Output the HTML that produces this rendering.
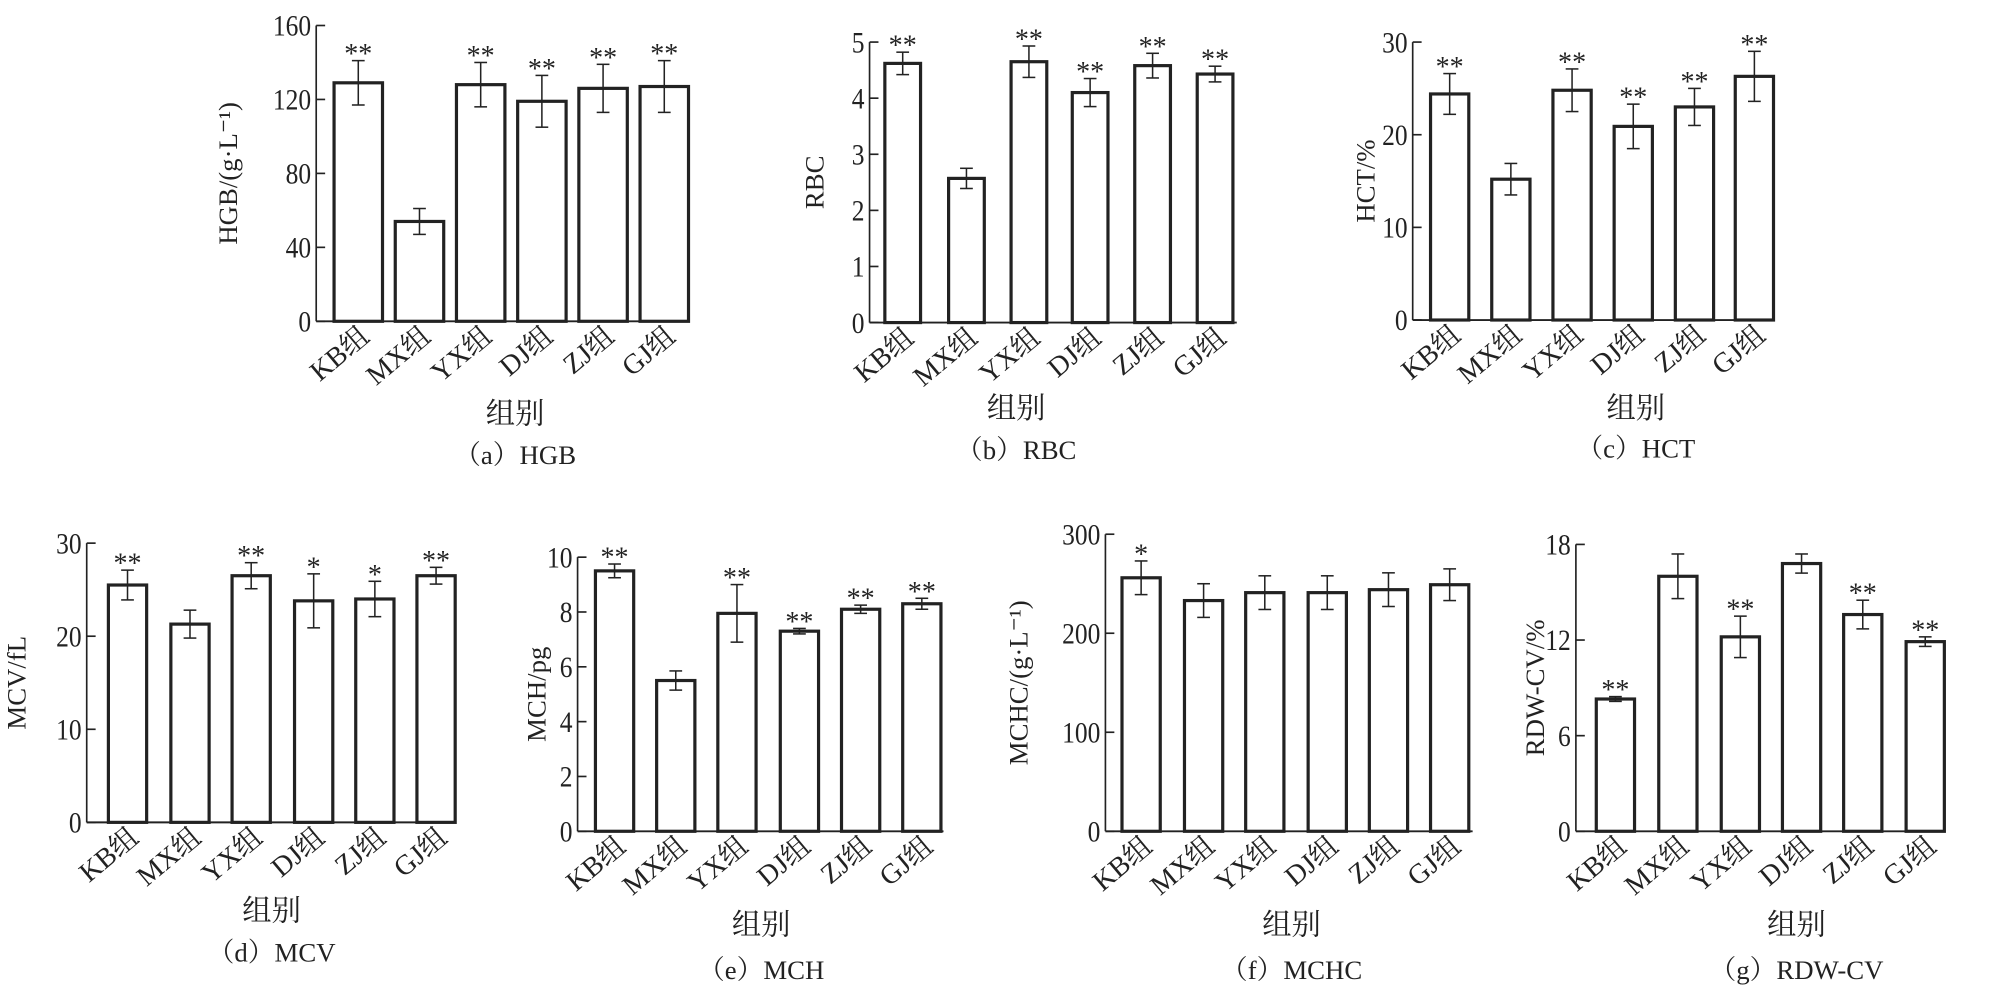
<!DOCTYPE html>
<html><head><meta charset="utf-8"><style>
html,body{margin:0;padding:0;background:#fff;width:1989px;height:989px;overflow:hidden}
svg text{font-family:"Liberation Serif","Noto Serif CJK SC","Noto Sans CJK SC",serif;fill:#222}
</style></head><body>
<svg id="s" width="1989" height="989" viewBox="0 0 1560 775.7" xmlns="http://www.w3.org/2000/svg"></svg>
<script>
const P=[
{ax:248,top:20,y0:252,max:160,ticks:[0,40,80,120,160],c:[281,329,377,425,473,521],w:38,end:540,
 v:[129,54,128,119,126,127],e:[12,7,12,14,13,14],st:["**","","**","**","**","**"],lab:"HGB/(g·L⁻¹)",lx:178,gx:404,gy:332,cap:"（a）HGB",cy:364},
{ax:682,top:33,y0:253,max:5,ticks:[0,1,2,3,4,5],c:[708,758,807,855,904,953],w:28,end:970,
 v:[4.62,2.57,4.65,4.1,4.58,4.43],e:[.2,.18,.28,.25,.22,.14],st:["**","","**","**","**","**"],lab:"RBC",lx:638,gx:797,gy:328,cap:"（b）RBC",cy:360},
{ax:1108,top:33,y0:251,max:30,ticks:[0,10,20,30],c:[1137,1185,1233,1281,1329,1376],w:30,end:1392,
 v:[24.4,15.2,24.8,20.9,23,26.3],e:[2.2,1.7,2.3,2.4,2,2.7],st:["**","","**","**","**","**"],lab:"HCT/%",lx:1070,gx:1283,gy:328,cap:"（c）HCT",cy:359},
{ax:68,top:426,y0:645,max:30,ticks:[0,10,20,30],c:[100,149,197,246,294,342],w:30,end:358,
 v:[25.5,21.3,26.5,23.8,24,26.5],e:[1.6,1.5,1.4,2.9,1.9,0.9],st:["**","","**","*","*","**"],lab:"MCV/fL",lx:12,gx:213,gy:722,cap:"（d）MCV",cy:754},
{ax:453,top:437,y0:652,max:10,ticks:[0,2,4,6,8,10],c:[482,530,578,627,675,723],w:30,end:740,
 v:[9.5,5.5,7.95,7.3,8.1,8.3],e:[.25,.35,1.05,.1,.15,.2],st:["**","","**","**","**","**"],lab:"MCH/pg",lx:420,gx:597,gy:733,cap:"（e）MCH",cy:768},
{ax:867,top:419,y0:652,max:300,ticks:[0,100,200,300],c:[895,944,992,1041,1089,1137],w:30,end:1155,
 v:[256,233,241,241,244,249],e:[17,17,17,17,17,16],st:["*","","","","",""],lab:"MCHC/(g·L⁻¹)",lx:798,gx:1013,gy:733,cap:"（f）MCHC",cy:768},
{ax:1236,top:427,y0:652,max:18,ticks:[0,6,12,18],c:[1267,1316,1365,1413,1461,1510],w:30,end:1525,
 v:[8.3,16,12.2,16.8,13.6,11.9],e:[.15,1.4,1.3,.6,.9,.3],st:["**","","**","","**","**"],lab:"RDW-CV/%",lx:1203,gx:1409,gy:733,cap:"（g）RDW-CV",cy:768}];
const N=["KB组","MX组","YX组","DJ组","ZJ组","GJ组"];
let h="";
for(const p of P){
 const Y=v=>p.y0-(p.y0-p.top)*v/p.max;
 h+=`<line x1="${p.ax}" y1="${p.top}" x2="${p.ax}" y2="${p.y0}" stroke="#222" stroke-width="1.3"/>`;
 h+=`<line x1="${p.ax}" y1="${p.y0}" x2="${p.end}" y2="${p.y0}" stroke="#222" stroke-width="1.5"/>`;
 for(const t of p.ticks){const y=Y(t);
  h+=`<line x1="${p.ax}" y1="${y}" x2="${p.ax+7}" y2="${y}" stroke="#222" stroke-width="1.3"/>`;
  h+=`<text x="${p.ax-4}" y="${y+8}" font-size="23" text-anchor="end" textLength="${String(t).length*10}" lengthAdjust="spacingAndGlyphs">${t}</text>`;}
 const my=(p.top+p.y0)/2;
 h+=`<text transform="translate(${p.lx+8},${my}) rotate(-90)" font-size="21" text-anchor="middle">${p.lab}</text>`;
 p.c.forEach((c,i)=>{const y=Y(p.v[i]);
  h+=`<rect x="${c-p.w/2}" y="${y}" width="${p.w}" height="${p.y0-y}" fill="#fff" stroke="#222" stroke-width="2.5"/>`;
  const y1=Y(p.v[i]+p.e[i]),y2=Y(p.v[i]-p.e[i]);
  h+=`<line x1="${c}" y1="${y1}" x2="${c}" y2="${y2}" stroke="#222" stroke-width="1.2"/><line x1="${c-5}" y1="${y1}" x2="${c+5}" y2="${y1}" stroke="#222" stroke-width="1.2"/><line x1="${c-5}" y1="${y2}" x2="${c+5}" y2="${y2}" stroke="#222" stroke-width="1.2"/>`;
  if(p.st[i])h+=`<text x="${c}" y="${y1+2}" font-size="22" text-anchor="middle">${p.st[i]}</text>`;
  h+=`<text transform="translate(${c+10},${p.y0+14}) rotate(-40)" font-size="22" text-anchor="end">${N[i]}</text>`;
 });
 h+=`<text x="${p.gx}" y="${p.gy}" font-size="23" text-anchor="middle">组别</text>`;
 h+=`<text x="${p.gx}" y="${p.cy}" font-size="21" text-anchor="middle">${p.cap}</text>`;
}
document.getElementById("s").innerHTML=h;
</script>
</body></html>
